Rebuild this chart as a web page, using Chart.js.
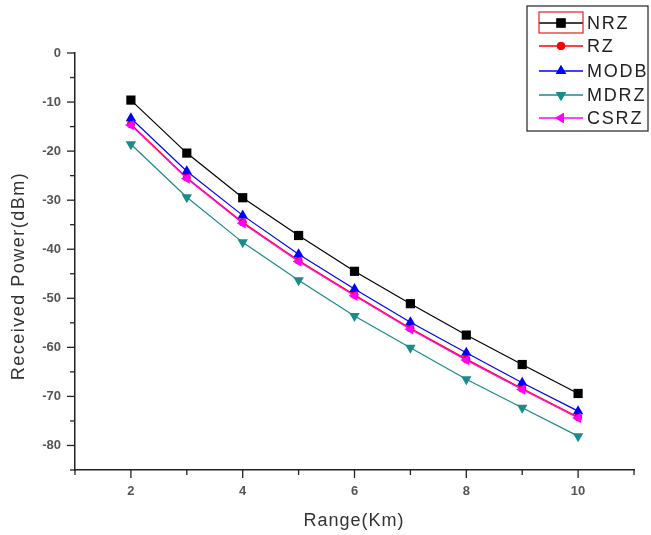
<!DOCTYPE html>
<html><head><meta charset="utf-8">
<script src="https://cdn.jsdelivr.net/npm/chart.js@4.4.1/dist/chart.umd.min.js"></script>
<style>html,body{margin:0;padding:0;background:#fff;}#wrap{width:651px;height:535px;}</style>
</head><body><div id="wrap"><canvas id="c" width="651" height="535"></canvas></div>
<script>
const rangeKm = [2, 3, 4, 5, 6, 7, 8, 9, 10];
const nrz  = [-9.6, -20.4, -29.5, -37.2, -44.5, -51.1, -57.5, -63.5, -69.4];
const rz   = [-14.5, -25.4, -34.5, -42.3, -49.3, -56.1, -62.4, -68.4, -74.2];
const modb = [-13.3, -24.1, -33.1, -41.0, -48.1, -54.9, -61.1, -67.2, -73.0];
const mdrz = [-18.6, -29.4, -38.6, -46.3, -53.6, -60.1, -66.5, -72.3, -78.1];
const csrz = [-14.7, -25.6, -34.7, -42.5, -49.5, -56.3, -62.6, -68.6, -74.4];
const seriesNames = ['NRZ', 'RZ', 'MODB', 'MDRZ', 'CSRZ'];
const yTickLabels = [0, -10, -20, -30, -40, -50, -60, -70, -80];
const xTickLabels = [2, 4, 6, 8, 10];
const xTitle = 'Range(Km)';
const yTitle = 'Received Power(dBm)';

const toPts = arr => arr.map((v, i) => ({x: rangeKm[i], y: v}));
const styles = [
  {color: '#000000', pointStyle: 'rect', radius: 6.5, rotation: 0, order: 0},
  {color: '#ff0000', pointStyle: 'circle', radius: 4, rotation: 0, order: 3},
  {color: '#0000ff', pointStyle: 'triangle', radius: 6, rotation: 0, order: 2},
  {color: '#1a8a8a', pointStyle: 'triangle', radius: 6, rotation: 180, order: 4},
  {color: '#ff00ff', pointStyle: 'triangle', radius: 6, rotation: -90, order: 1}
];
const allData = [nrz, rz, modb, mdrz, csrz];

const datasets = allData.map((d, i) => ({
  label: seriesNames[i],
  data: toPts(d),
  order: styles[i].order,
  borderColor: styles[i].color,
  backgroundColor: styles[i].color,
  borderWidth: 1.2,
  pointStyle: styles[i].pointStyle,
  pointRadius: styles[i].radius,
  pointRotation: styles[i].rotation,
  pointBorderWidth: 0,
  pointBackgroundColor: styles[i].color,
  tension: 0
}));

const FONT = 'Arial, "Liberation Sans", sans-serif';

const tickPlugin = {
  id: 'ticksAndLegend',
  afterDraw(chart) {
    const ctx = chart.ctx;
    const xs = chart.scales.x, ys = chart.scales.y;
    const area = chart.chartArea;
    ctx.save();
    ctx.strokeStyle = '#222';
    ctx.lineWidth = 1.3;
    for (let v = 0; v >= -85; v -= 5) {
      const py = ys.getPixelForValue(v);
      const len = (v % 10 === 0) ? 8 : 5;
      ctx.beginPath(); ctx.moveTo(area.left, py); ctx.lineTo(area.left - len, py); ctx.stroke();
    }
    for (let v = 1; v <= 11; v++) {
      const px = xs.getPixelForValue(v);
      const len = (v % 2 === 0) ? 8 : 5;
      ctx.beginPath(); ctx.moveTo(px, area.bottom); ctx.lineTo(px, area.bottom + len); ctx.stroke();
    }
    // axis titles
    ctx.fillStyle = '#333';
    ctx.font = '18px ' + FONT;
    ctx.textAlign = 'center';
    ctx.textBaseline = 'middle';
    ctx.letterSpacing = '1px';
    ctx.fillText(xTitle, 354, 521);
    ctx.save();
    ctx.translate(19, 276);
    ctx.rotate(-Math.PI / 2);
    ctx.letterSpacing = '1.5px';
    ctx.fillText(yTitle, 0, 0);
    ctx.restore();
    // legend
    const bx = 527, by = 6, bw = 121, bh = 125;
    ctx.strokeStyle = '#333'; ctx.lineWidth = 1.3;
    ctx.strokeRect(bx, by, bw, bh);
    const rowsY = [23, 46, 71, 95, 118];
    ctx.font = '18px ' + FONT;
    ctx.textAlign = 'left';
    ctx.textBaseline = 'middle';
    ctx.letterSpacing = '1.8px';
    datasets.forEach((ds, i) => {
      const y = rowsY[i];
      ctx.strokeStyle = ds.borderColor; ctx.lineWidth = 1.3;
      ctx.beginPath(); ctx.moveTo(539, y); ctx.lineTo(583, y); ctx.stroke();
      ctx.fillStyle = ds.borderColor;
      Chart.helpers.drawPoint(ctx, {pointStyle: ds.pointStyle, radius: ds.pointRadius, rotation: ds.pointRotation, borderWidth: 0}, 561, y);
      ctx.fill();
      ctx.fillStyle = '#222';
      ctx.fillText(ds.label, 587, y + 1);
    });
    ctx.strokeStyle = '#e02020'; ctx.lineWidth = 1.2;
    ctx.strokeRect(539, 12, 44, 21);
    ctx.restore();
  }
};

new Chart(document.getElementById('c'), {
  type: 'line',
  data: {datasets},
  options: {
    responsive: false,
    animation: false,
    devicePixelRatio: 1,
    layout: {padding: {top: 53, right: 17, left: 0, bottom: 0}},
    plugins: {legend: {display: false}, tooltip: {enabled: false}},
    scales: {
      x: {
        type: 'linear', min: 1, max: 11,
        afterFit: s => { s.height = 65; },
        grid: {display: true, drawOnChartArea: false, drawTicks: false},
        border: {display: true, color: '#222', width: 1.5},
        ticks: {
          stepSize: 1, padding: 14, color: '#555',
          font: {family: FONT, size: 13, weight: 'bold'},
          callback: v => xTickLabels.includes(v) ? String(v) : ''
        }
      },
      y: {
        type: 'linear', min: -85, max: 0,
        afterFit: s => { s.width = 75; },
        grid: {display: true, drawOnChartArea: false, drawTicks: false},
        border: {display: true, color: '#222', width: 1.5},
        ticks: {
          stepSize: 5, padding: 14, color: '#555',
          font: {family: FONT, size: 13, weight: 'bold'},
          callback: v => yTickLabels.includes(v) ? String(v) : ''
        }
      }
    }
  },
  plugins: [tickPlugin]
});
</script></body></html>
